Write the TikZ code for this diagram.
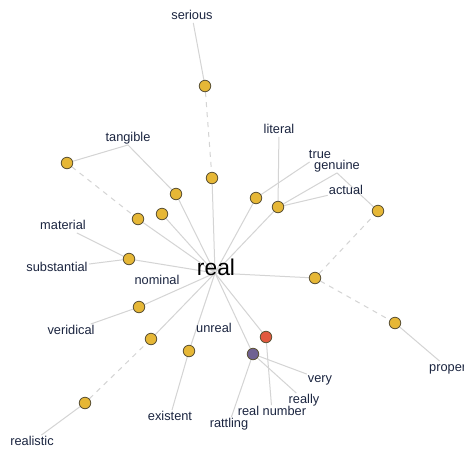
\documentclass[tikz,border=0pt]{standalone}
\usepackage{fontspec}
\setmainfont{Liberation Sans}
\usetikzlibrary{backgrounds}
\definecolor{synfill}{HTML}{E6B736}
\definecolor{synedge}{HTML}{5C5235}
\definecolor{advfill}{HTML}{E2593F}
\definecolor{nounfill}{HTML}{6F6192}
\definecolor{linkgrey}{HTML}{D4D4D4}
\definecolor{wordink}{HTML}{1B2540}

\begin{document}
\begin{tikzpicture}[x=1pt,y=-1pt,
  syn/.style={circle,draw=synedge,fill=synfill,line width=0.8pt,minimum size=11.5pt,inner sep=0pt},
  advsyn/.style={syn,fill=advfill},
  nounsyn/.style={syn,fill=nounfill},
  word/.style={font=\fontsize{12.8}{14}\selectfont,text=wordink,inner sep=1pt,
               text height=9pt,text depth=2.5pt},
  hubword/.style={font=\fontsize{22.8}{26}\selectfont,text=black,inner sep=0pt},
  lnk/.style={draw=linkgrey,line width=1pt},
  far/.style={lnk,dash pattern=on 5pt off 5pt}]

\useasboundingbox (0,0) rectangle (464,448);

% hub word
\coordinate (hub) at (215,273);
\node[hubword,anchor=base] (real) at (216,275) {real};

% synset dots
\node[syn] (s1) at (205,86)  {};
\node[syn] (s2) at (212,178) {};
\node[syn] (t1) at (67,163)  {};
\node[syn] (t2) at (176,194) {};
\node[syn] (t3) at (138,219) {};
\node[syn] (t4) at (162,214) {};
\node[syn] (m1) at (129,259) {};
\node[syn] (v1) at (139,307) {};
\node[syn] (r1) at (151,339) {};
\node[syn] (r2) at (85,403)  {};
\node[syn] (u1) at (189,351) {};
\node[advsyn] (adv) at (266,337) {};
\node[nounsyn] (noun) at (253,354) {};
\node[syn] (p1) at (315,278) {};
\node[syn] (p2) at (378,211) {};
\node[syn] (p3) at (395,323) {};
\node[syn] (g1) at (256,198) {};
\node[syn] (g2) at (278,207) {};

% words
\node[word] (serious)     at (192,16)  {serious};
\node[word] (tangible)    at (128,138) {tangible};
\node[word] (material)    at (63,226)  {material};
\node[word] (substantial) at (57,268)  {substantial};
\node[word] (nominal)     at (157,281) {nominal};
\node[word] (veridical)   at (71,331)  {veridical};
\node[word] (unreal)      at (214,329) {unreal};
\node[word] (existent)    at (170,417) {existent};
\node[word] (realistic)   at (32,442)  {realistic};
\node[word] (rattling)    at (229,424) {rattling};
\node[word] (realnum)     at (272,412) {real number};
\node[word] (really)      at (304,400) {really};
\node[word] (very)        at (320,379) {very};
\node[word,anchor=west] (proper) at (428,368) {proper};
\node[word] (literal)     at (279,130) {literal};
\node[word] (true)        at (320,155) {true};
\node[word] (genuine)     at (337,166) {genuine};
\node[word] (actual)      at (346,191) {actual};

\begin{scope}[on background layer]
  \fill[white] (0,0) rectangle (464,448);
  \draw[lnk] (serious) -- (s1); \draw[far] (s1) -- (s2); \draw[lnk] (s2) -- (hub);
  \draw[lnk] (t1) -- (tangible.south) -- (t2) -- (hub);
  \draw[far] (t1) -- (t3); \draw[lnk] (t3) -- (hub); \draw[lnk] (t4) -- (hub);
  \draw[lnk] (material) -- (m1) -- (substantial); \draw[lnk] (m1) -- (hub);
  \draw[lnk] (veridical) -- (v1) -- (hub);
  \draw[lnk] (realistic) -- (r2); \draw[far] (r2) -- (r1); \draw[lnk] (r1) -- (hub);
  \draw[lnk] (existent) -- (u1) -- (hub);
  \draw[lnk] (realnum) -- (adv) -- (hub);
  \draw[lnk] (hub) -- (noun);
  \draw[lnk] (noun) -- (very); \draw[lnk] (noun) -- (really); \draw[lnk] (noun) -- (rattling);
  \draw[lnk] (hub) -- (p1); \draw[far] (p1) -- (p2); \draw[far] (p1) -- (p3);
  \draw[lnk] (p3) -- (proper);
  \draw[lnk] (p2) -- (genuine.south);
  \draw[lnk] (hub) -- (g1) -- (true);
  \draw[lnk] (hub) -- (g2) -- (literal);
  \draw[lnk] (g2) -- (genuine.south); \draw[lnk] (g2) -- (actual);
\end{scope}
\end{tikzpicture}
\end{document}
